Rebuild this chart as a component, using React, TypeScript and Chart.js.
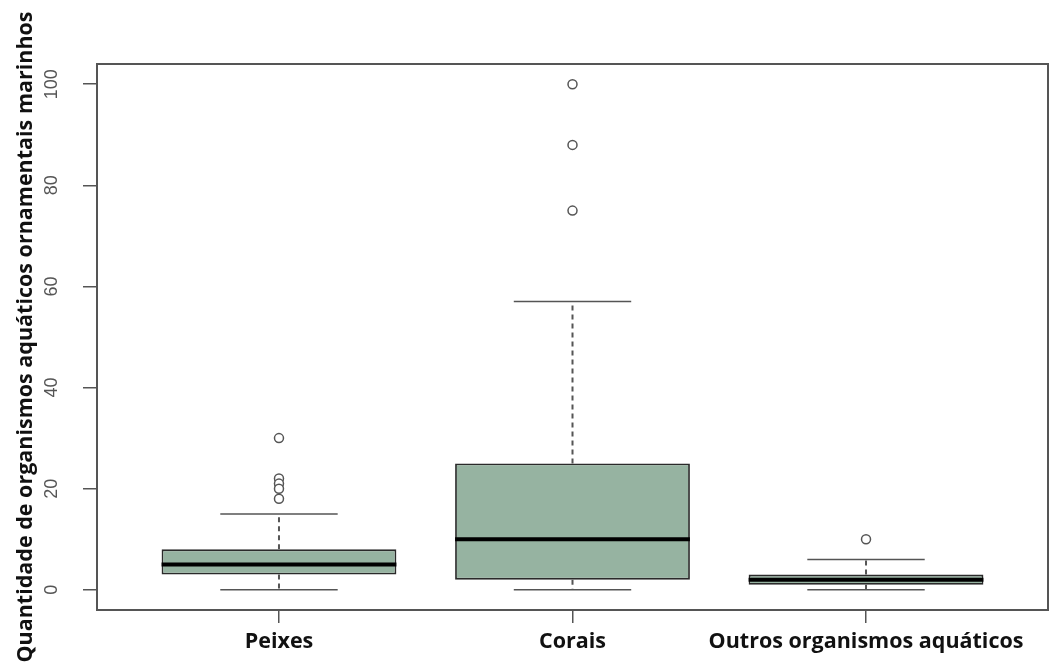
import { useEffect, useRef } from "react";
import { Chart, registerables } from "chart.js";

Chart.register(...registerables);

// Box-plot summary for each group
const categories = ["Peixes", "Corais", "Outros organismos aquáticos"];
const lowerWhisker = [0, 0, 0];
const q1 = [3, 2, 1];
const medians = [5, 10, 2];
const q3 = [8, 25, 3];
const upperWhisker = [15, 57, 6];
const outliers = [
  [30, 22, 21, 20, 18],
  [100, 88, 75],
  [10],
];
const yTickValues = [0, 20, 40, 60, 80, 100];

const Y_MIN = -4;
const Y_MAX = 104;
const X_MIN = 0.38;
const X_MAX = 3.62;
const BOX_HALF = 0.4;
const CAP_HALF = 0.2;

const AXIS_GREY = "#555555";
const BOX_FILL = "#96b3a1";
const LABEL_FONT = "'Open Sans', sans-serif";

type Pt = { x: number; y: number | null };

// Turn [x0, y0, x1, y1] segments into one polyline broken by gaps
function segments(list: number[][]): Pt[] {
  const out: Pt[] = [];
  list.forEach(([x0, y0, x1, y1]) => {
    out.push({ x: x0, y: y0 }, { x: x1, y: y1 }, { x: x1, y: null });
  });
  return out;
}

const plotFrame = {
  id: "plotFrame",
  afterDraw(chart: any) {
    const { ctx, chartArea } = chart;
    ctx.save();
    ctx.strokeStyle = AXIS_GREY;
    ctx.lineWidth = 2;
    ctx.strokeRect(
      chartArea.left,
      chartArea.top,
      chartArea.right - chartArea.left,
      chartArea.bottom - chartArea.top
    );
    ctx.restore();
  },
};

export default function App() {
  const canvasRef = useRef<HTMLCanvasElement | null>(null);

  useEffect(() => {
    document.body.style.margin = "0";
    const canvas = canvasRef.current;
    if (!canvas) return;

    const xs = categories.map((_, i) => i + 1);

    const boxData = xs.map((x, i) => ({ x, y: [q1[i], q3[i]] }));
    const medianData = segments(
      xs.map((x, i) => [x - BOX_HALF, medians[i], x + BOX_HALF, medians[i]])
    );
    const capData = segments(
      xs.flatMap((x, i) => [
        [x - CAP_HALF, upperWhisker[i], x + CAP_HALF, upperWhisker[i]],
        [x - CAP_HALF, lowerWhisker[i], x + CAP_HALF, lowerWhisker[i]],
      ])
    );
    const stemData = segments(
      xs.flatMap((x, i) => [
        [x, q3[i], x, upperWhisker[i]],
        [x, q1[i], x, lowerWhisker[i]],
      ])
    );
    const outlierData = xs.flatMap((x, i) => outliers[i].map((y) => ({ x, y })));

    const chart = new Chart(canvas, {
      type: "bar",
      data: {
        datasets: [
          {
            type: "bar",
            data: boxData as any,
            backgroundColor: BOX_FILL,
            borderColor: "#2a2a2a",
            borderWidth: 1.8,
            borderSkipped: false,
            grouped: false,
            categoryPercentage: 1,
            barPercentage: 0.8,
            order: 5,
          },
          {
            type: "line",
            data: stemData as any,
            borderColor: AXIS_GREY,
            borderWidth: 2,
            borderDash: [5, 4],
            pointRadius: 0,
            spanGaps: false,
            order: 4,
          },
          {
            type: "line",
            data: capData as any,
            borderColor: AXIS_GREY,
            borderWidth: 1.5,
            pointRadius: 0,
            spanGaps: false,
            order: 3,
          },
          {
            type: "line",
            data: medianData as any,
            borderColor: "#000000",
            borderWidth: 4,
            pointRadius: 0,
            spanGaps: false,
            borderCapStyle: "butt",
            order: 2,
          },
          {
            type: "line",
            data: outlierData as any,
            showLine: false,
            pointRadius: 4.5,
            pointBorderWidth: 1.5,
            pointBorderColor: AXIS_GREY,
            pointBackgroundColor: "#ffffff",
            order: 1,
          },
        ],
      },
      options: {
        animation: false,
        responsive: false,
        devicePixelRatio: 1,
        events: [],
        layout: { padding: { top: 64, right: 5, left: 0, bottom: 0 } },
        plugins: {
          legend: { display: false },
          tooltip: { enabled: false },
        },
        scales: {
          x: {
            type: "linear",
            min: X_MIN,
            max: X_MAX,
            offset: false,
            afterBuildTicks: (scale: any) => {
              scale.ticks = xs.map((v) => ({ value: v }));
            },
            afterFit: (scale: any) => {
              scale.height = 53;
            },
            border: { display: false },
            grid: {
              offset: false,
              drawOnChartArea: false,
              drawTicks: true,
              tickLength: 13,
              tickColor: AXIS_GREY,
              lineWidth: 1.5,
            },
            ticks: {
              autoSkip: false,
              maxRotation: 0,
              minRotation: 0,
              padding: 6,
              color: "#111111",
              font: { family: LABEL_FONT, size: 21.5, weight: "bold" },
              callback: (v: any) => categories[Math.round(Number(v)) - 1] ?? "",
            },
          },
          y: {
            type: "linear",
            min: Y_MIN,
            max: Y_MAX,
            afterBuildTicks: (scale: any) => {
              scale.ticks = yTickValues.map((v) => ({ value: v }));
            },
            afterFit: (scale: any) => {
              scale.width = 97;
            },
            border: { display: false },
            grid: {
              drawOnChartArea: false,
              drawTicks: true,
              tickLength: 14,
              tickColor: AXIS_GREY,
              lineWidth: 1.5,
            },
            ticks: {
              minRotation: 90,
              maxRotation: 90,
              crossAlign: "center",
              padding: 16,
              color: AXIS_GREY,
              font: { family: "'Liberation Sans', Arial, sans-serif", size: 18 },
            },
            title: {
              display: true,
              text: "Quantidade de organismos aquáticos ornamentais marinhos",
              color: "#111111",
              padding: { top: 13, bottom: 0 },
              font: { family: LABEL_FONT, size: 21.5, weight: "bold" },
            },
          },
        },
      },
      plugins: [plotFrame],
    });

    return () => chart.destroy();
  }, []);

  return (
    <div style={{ width: 1054, height: 663, background: "#ffffff" }}>
      <canvas ref={canvasRef} width={1054} height={663} />
    </div>
  );
}
